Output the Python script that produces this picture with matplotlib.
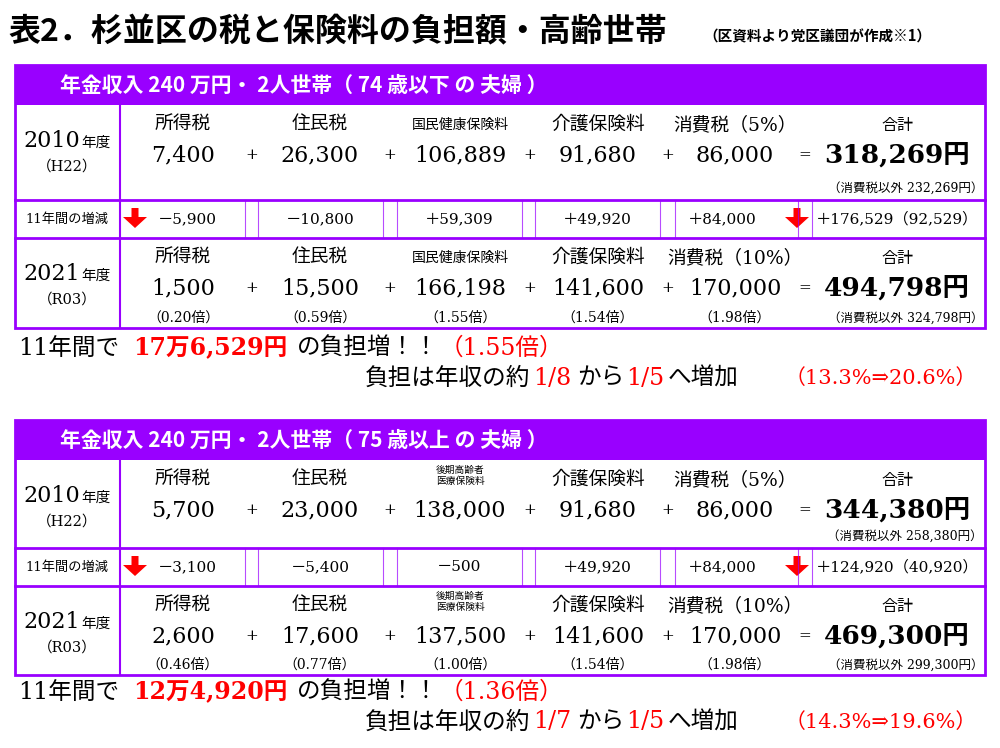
import matplotlib.pyplot as plt
from matplotlib.patches import Rectangle, FancyArrow

SERIF = ['DejaVu Serif', 'Noto Sans CJK JP']
SANS = ['Noto Sans CJK JP']
PURPLE = '#9900ff'
RED = '#ff0000'

headers = ['年金収入 240 万円・ 2人世帯（ 74 歳以下 の 夫婦 ）',
           '年金収入 240 万円・ 2人世帯（ 75 歳以上 の 夫婦 ）']
items_a = ['所得税', '住民税', '国民健康保険料', '介護保険料', '消費税（5%）']
items_b = ['所得税', '住民税', '国民健康保険料', '介護保険料', '消費税（10%）']
items2_a = ['所得税', '住民税', '後期高齢者\n医療保険料', '介護保険料', '消費税（5%）']
items2_b = ['所得税', '住民税', '後期高齢者\n医療保険料', '介護保険料', '消費税（10%）']
vals_2010 = [['7,400', '26,300', '106,889', '91,680', '86,000'],
             ['5,700', '23,000', '138,000', '91,680', '86,000']]
vals_2021 = [['1,500', '15,500', '166,198', '141,600', '170,000'],
             ['2,600', '17,600', '137,500', '141,600', '170,000']]
ratios = [['（0.20倍）', '（0.59倍）', '（1.55倍）', '（1.54倍）', '（1.98倍）'],
          ['（0.46倍）', '（0.77倍）', '（1.00倍）', '（1.54倍）', '（1.98倍）']]
diffs = [['－5,900', '－10,800', '＋59,309', '＋49,920', '＋84,000', '＋176,529（92,529）'],
         ['－3,100', '－5,400', '－500', '＋49,920', '＋84,000', '＋124,920（40,920）']]
totals_2010 = ['318,269円', '344,380円']
totals_2021 = ['494,798円', '469,300円']
notes_2010 = ['（消費税以外 232,269円）', '（消費税以外 258,380円）']
notes_2021 = ['（消費税以外 324,798円）', '（消費税以外 299,300円）']
increase = ['17万6,529円', '12万4,920円']
times = ['（1.55倍）', '（1.36倍）']
frac_from = ['1/8', '1/7']
pct = ['（13.3%⇒20.6%）', '（14.3%⇒19.6%）']

fig = plt.figure(figsize=(10, 7.48), dpi=100)
ax = fig.add_axes([0, 0, 1, 1])
ax.set_xlim(0, 1000)
ax.set_ylim(748, 0)
ax.axis('off')

ax.text(8, 32, '表2．杉並区の税と保険料の負担額・高齢世帯', fontsize=23, fontweight='bold',
        family=SANS, va='center')
ax.text(703, 36, '（区資料より党区議団が作成※1）', fontsize=10.5, fontweight='bold',
        family=SANS, va='center')

cx = [183, 320, 460, 598, 735]
px = [252, 390, 530, 668]
dividers = [245, 258, 383, 397, 522, 535, 660, 675, 798, 812]


def down_arrow(x, y):
    ax.add_patch(FancyArrow(x, y - 11, 0, 20, width=7, head_width=24, head_length=11,
                            length_includes_head=True, color=RED, lw=0))


def block(k, top, rows):
    r1, r2, r3, bot = rows
    ax.add_patch(Rectangle((15, top), 970, r1 - top, color=PURPLE, lw=0))
    ax.text(60, (top + r1) / 2, headers[k], color='white', fontsize=15, fontweight='bold',
            family=SANS, va='center')
    ax.add_patch(Rectangle((15, top), 970, bot - top, fill=False, ec=PURPLE, lw=2))
    for y in (r2, r3):
        ax.plot([15, 985], [y, y], color=PURPLE, lw=2)
    ax.plot([120, 120], [r1, bot], color=PURPLE, lw=1.5)
    for x in dividers:
        ax.plot([x, x], [r2, r3], color=PURPLE, lw=0.8, alpha=0.7)

    labs_a = items_a if k == 0 else items2_a
    labs_b = items_b if k == 0 else items2_b
    for rs, labs, vals, yr in ((r1, labs_a, vals_2010[k], 'H22'), (r3, labs_b, vals_2021[k], 'R03')):
        ly, vy = rs + 20, rs + 50
        ax.text(80, ly + 16, '2010' if rs == r1 else '2021', fontsize=16, family=SERIF,
                va='center', ha='right')
        ax.text(81, ly + 18, '年度', fontsize=10.5, family=SERIF, va='center')
        ax.text(67, ly + 42, '（%s）' % yr, fontsize=10.5, family=SERIF, va='center', ha='center')
        for i, (lab, v) in enumerate(zip(labs, vals)):
            small = lab == '国民健康保険料'
            ax.text(cx[i], ly - (4 if '\n' in lab else 0), lab,
                    fontsize=7 if '\n' in lab else (10 if small else 13.5),
                    family=SERIF, va='center', ha='center', linespacing=1.2)
            ax.text(cx[i], vy, v, fontsize=16, family=SERIF, va='center', ha='center')
        for x in px:
            ax.text(x, vy, '+', fontsize=11, family=SERIF, va='center', ha='center')
        ax.text(805, vy, '=', fontsize=11, family=SERIF, va='center', ha='center')
        ax.text(897, ly, '合計', fontsize=11.5, family=SERIF, va='center', ha='center')
    ax.text(897, r1 + 50, totals_2010[k], fontsize=19, fontweight='bold', family=SERIF,
            va='center', ha='center')
    ax.text(897, r3 + 50, totals_2021[k], fontsize=19, fontweight='bold', family=SERIF,
            va='center', ha='center')
    ax.text(983, r2 - 12, notes_2010[k], fontsize=9, family=SERIF, va='center', ha='right')
    ax.text(983, bot - 10, notes_2021[k], fontsize=9, family=SERIF, va='center', ha='right')
    for i in range(5):
        ax.text(cx[i], bot - 10, ratios[k][i], fontsize=10, family=SERIF, va='center', ha='center')

    my = (r2 + r3) / 2
    ax.text(67, my, '11年間の増減', fontsize=9.5, family=SERIF, va='center', ha='center')
    dcx = [187, 320, 459, 597, 722, 897]
    for i, d in enumerate(diffs[k]):
        ax.text(dcx[i], my, d, fontsize=11, family=SERIF, va='center', ha='center')
    down_arrow(135, my)
    down_arrow(797, my)


def summary(k, y1, y2):
    f = dict(fontsize=17, family=SERIF, va='center')
    ax.text(18, y1, '11年間で', **f)
    ax.text(133, y1, increase[k], color=RED, fontweight='bold', **f)
    ax.text(297, y1, 'の負担増！！', **f)
    ax.text(440, y1, times[k], color=RED, **f)
    ax.text(365, y2, '負担は年収の約', **f)
    ax.text(533, y2, frac_from[k], color=RED, **f)
    ax.text(577, y2, 'から', **f)
    ax.text(626, y2, '1/5', color=RED, **f)
    ax.text(668, y2, 'へ増加', **f)
    ax.text(785, y2, pct[k], color=RED, fontsize=15, family=SERIF, va='center')


block(0, 65, (105, 200, 238, 328))
summary(0, 348, 378)
block(1, 420, (460, 548, 586, 675))
summary(1, 692, 722)

fig.savefig('out.png', dpi=100)
